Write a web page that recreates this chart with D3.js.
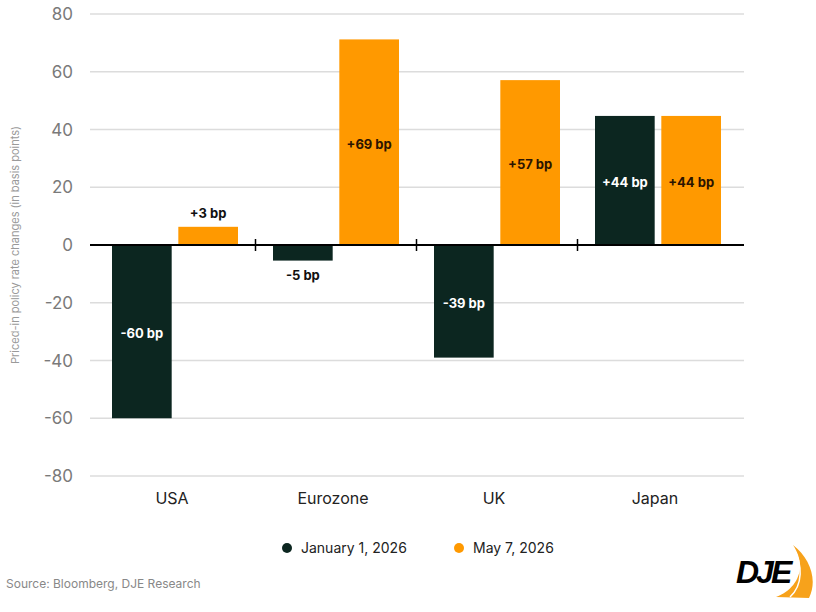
<!DOCTYPE html>
<html><head><meta charset="utf-8">
<script src="https://cdn.jsdelivr.net/npm/d3@7"></script>
<style>body{margin:0;background:#fff;}svg{display:block;font-family:Inter,"Noto Sans",sans-serif;}</style>
</head><body><svg id="c" width="816" height="612"></svg>
<script>
const categories = ["USA", "Eurozone", "UK", "Japan"];
const seriesNames = ["January 1, 2026", "May 7, 2026"];
const janValues = [-60, -5.4, -39, 44.7];
const mayValues = [6.3, 71.2, 57.1, 44.7];
const janLabels = ["-60 bp", "-5 bp", "-39 bp", "+44 bp"];
const mayLabels = ["+3 bp", "+69 bp", "+57 bp", "+44 bp"];
const yTicks = [-80, -60, -40, -20, 0, 20, 40, 60, 80];
const colors = ["#0c2620", "#ff9900"];

const svg = d3.select("#c");
const y = d3.scaleLinear().domain([-80, 80]).range([476, 14]);
const x0 = d3.scaleBand().domain(categories).range([94.5, 738.5]).paddingInner(0).paddingOuter(0);
const x1 = d3.scaleBand().domain([0, 1]).range([17.5, x0.bandwidth() - 17.5]).paddingInner(0.1);

// gridlines
svg.append("g").selectAll("line").data(yTicks.filter(d => d !== 0)).join("line")
  .attr("x1", 90).attr("x2", 744).attr("y1", d => y(d)).attr("y2", d => y(d))
  .attr("stroke", "#dcdcdc").attr("stroke-width", 1.5);

// y tick labels
svg.append("g").selectAll("text").data(yTicks).join("text")
  .attr("x", 73).attr("y", d => y(d)).attr("dy", "0.36em")
  .attr("text-anchor", "end").attr("font-size", 17).attr("fill", "#7a7a7a")
  .text(d => d);

// y axis title
svg.append("text").attr("transform", `translate(19,${y(0)}) rotate(-90)`)
  .attr("text-anchor", "middle").attr("font-size", 11).attr("fill", "#9a9a9a")
  .text("Priced-in policy rate changes (in basis points)");

const data = categories.map((c, i) => ({c, vals: [janValues[i], mayValues[i]], labs: [janLabels[i], mayLabels[i]]}));

const groups = svg.append("g").selectAll("g").data(data).join("g")
  .attr("transform", d => `translate(${x0(d.c)},0)`);

groups.selectAll("rect").data(d => d.vals.map((v, k) => ({v, k}))).join("rect")
  .attr("x", d => x1(d.k)).attr("width", x1.bandwidth())
  .attr("y", d => y(Math.max(0, d.v))).attr("height", d => Math.abs(y(d.v) - y(0)))
  .attr("fill", d => colors[d.k]);

groups.selectAll("text").data(d => d.vals.map((v, k) => ({v, k, lab: d.labs[k]}))).join("text")
  .attr("x", d => x1(d.k) + x1.bandwidth() / 2)
  .attr("y", d => {
    const h = Math.abs(y(d.v) - y(0));
    if (h < 30) return d.v >= 0 ? y(d.v) - 13 : y(d.v) + 15;
    return (y(d.v) + y(0)) / 2 + 2;
  })
  .attr("dy", "0.36em").attr("text-anchor", "middle")
  .attr("font-size", 13).attr("font-weight", 700)
  .attr("fill", d => {
    const h = Math.abs(y(d.v) - y(0));
    if (h < 30) return "#111";
    return d.k === 0 ? "#ffffff" : "#2b1400";
  })
  .text(d => d.lab);

// zero line
svg.append("line").attr("x1", 90).attr("x2", 744).attr("y1", y(0)).attr("y2", y(0))
  .attr("stroke", "#000").attr("stroke-width", 2);
// category separator ticks
svg.append("g").selectAll("line").data(categories.slice(1)).join("line")
  .attr("x1", d => x0(d)).attr("x2", d => x0(d))
  .attr("y1", y(0) - 6).attr("y2", y(0) + 6)
  .attr("stroke", "#000").attr("stroke-width", 1.5);

// category labels
svg.append("g").selectAll("text").data(categories).join("text")
  .attr("x", d => x0(d) + x0.bandwidth() / 2 - 3).attr("y", 498).attr("dy", "0.36em")
  .attr("text-anchor", "middle").attr("font-size", 16).attr("fill", "#222")
  .text(d => d);

// legend
const legX = [287, 459];
const leg = svg.append("g").selectAll("g").data(seriesNames).join("g")
  .attr("transform", (d, i) => `translate(${legX[i]},548)`);
leg.append("circle").attr("r", 5).attr("fill", (d, i) => colors[i]);
leg.append("text").attr("x", 14).attr("dy", "0.36em").attr("font-size", 14).attr("fill", "#222").text(d => d);

// source
svg.append("text").attr("x", 6).attr("y", 588).attr("font-size", 12).attr("fill", "#888")
  .text("Source: Bloomberg, DJE Research");

// logo
const logo = svg.append("g");
logo.append("path")
  .attr("d", "M793,545 C810,558 818,580 809,598 L776,597 C790,592 800,580 800,566 C800,558 797,551 793,545 Z")
  .attr("fill", "#f7a21b");
logo.append("path")
  .attr("d", "M793,547 C803,565 803,585 790,597")
  .attr("fill", "none").attr("stroke", "#fff").attr("stroke-width", 1.5);
logo.append("text").attr("x", 736).attr("y", 583).attr("font-size", 32).attr("font-weight", 900)
  .attr("font-style", "italic").attr("fill", "#000").attr("font-family", "Liberation Sans, Arial, sans-serif")
  .attr("letter-spacing", -3).text("DJE");
</script></body></html>
